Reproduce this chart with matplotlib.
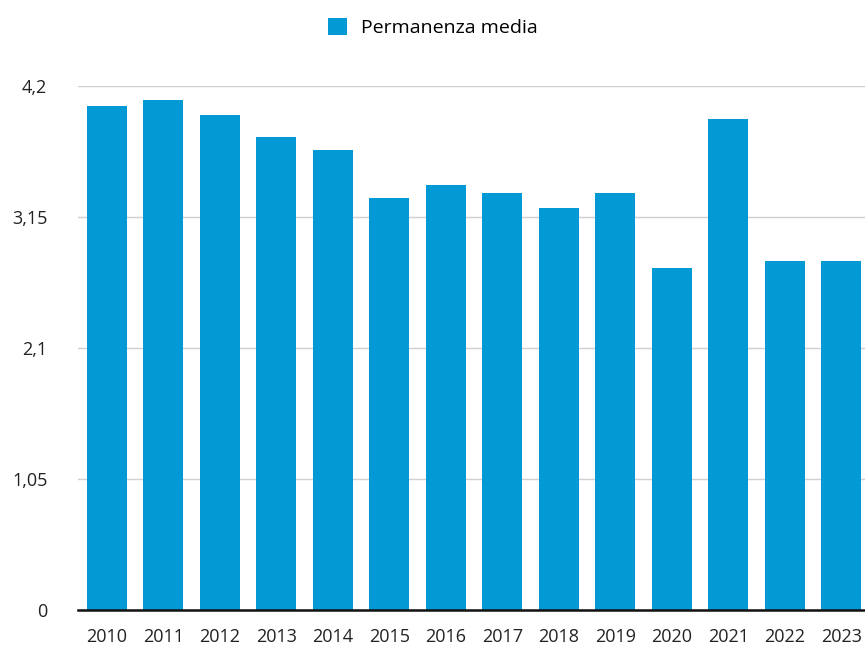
import matplotlib.pyplot as plt
from matplotlib.patches import Patch

# ----- data -----
years = ['2010', '2011', '2012', '2013', '2014', '2015', '2016',
         '2017', '2018', '2019', '2020', '2021', '2022', '2023']
permanenza = [4.04, 4.09, 3.965, 3.79, 3.69, 3.305, 3.41,
              3.34, 3.225, 3.34, 2.745, 3.935, 2.80, 2.80]
y_ticks = [0, 1.05, 2.1, 3.15, 4.2]
y_labels = ['0', '1,05', '2,1', '3,15', '4,2']

bar_col = '#0299d5'

plt.rcParams['font.family'] = ['Open Sans', 'DejaVu Sans']

fig = plt.figure(figsize=(8.65, 6.49), dpi=100)
ax = fig.add_axes([0.090, 0.060, 0.910, 0.8075])

x = range(len(years))
ax.bar(x, permanenza, width=0.71, color=bar_col, zorder=2)

ax.set_xlim(-0.51, len(years) - 1 + 0.42)
ax.set_ylim(0, 4.2)

ax.set_yticks(y_ticks)
ax.set_yticklabels(y_labels)
ax.set_xticks(list(x))
ax.set_xticklabels(years)

ax.tick_params(axis='y', length=0, pad=22, labelsize=13, labelcolor='#222222')
ax.tick_params(axis='x', length=0, pad=13, labelsize=13, labelcolor='#222222')

# grid + baseline
ax.yaxis.grid(True, color='#d0d0d0', linewidth=1.0, zorder=0)
ax.set_axisbelow(True)
for side in ['top', 'right', 'left']:
    ax.spines[side].set_visible(False)
ax.spines['bottom'].set_color('#111111')
ax.spines['bottom'].set_linewidth(1.8)
ax.spines['bottom'].set_zorder(3)

# legend on top
handle = Patch(facecolor=bar_col, edgecolor='none', label='Permanenza media')
fig.legend(handles=[handle], loc='center', bbox_to_anchor=(0.5, 0.958),
           frameon=False, fontsize=14, handlelength=1.0, handleheight=1.0,
           handletextpad=0.7)

fig.savefig('out.png', dpi=100)
